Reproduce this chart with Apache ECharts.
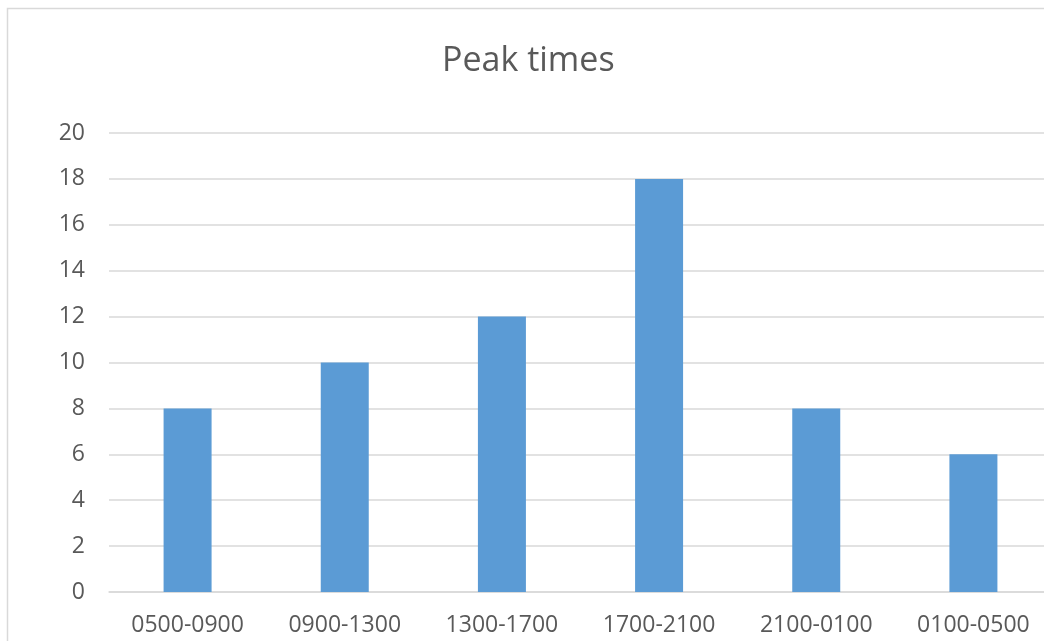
<!DOCTYPE html>
<html><head><meta charset="utf-8">
<script src="https://cdn.jsdelivr.net/npm/echarts@6/dist/echarts.min.js"></script>
<style>html,body{margin:0;padding:0;background:#fff}#c{width:1044px;height:641px}</style>
</head><body><div id="c"></div>
<script>
var categories = ['0500-0900','0900-1300','1300-1700','1700-2100','2100-0100','0100-0500'];
var values = [8, 10, 12, 18, 8, 6];
var title = 'Peak times';
var chart = echarts.init(document.getElementById('c'));
chart.setOption({
  animation: false,
  backgroundColor: '#fff',
  graphic: [{type:'rect', shape:{x:7.5,y:8.5,width:1100,height:700}, style:{fill:'none',stroke:'#d9d9d9',lineWidth:1.5}, silent:true, z:-1}],
  title: {text: title, left: 442, top: 44, padding: 0, textStyle:{fontFamily:'Open Sans', fontWeight:'normal', fontSize:34, color:'#595959'}},
  grid: {left: 109, width: 943, top: 133, bottom: 49, containLabel: false, outerBoundsMode: 'none'},
  xAxis: {type:'category', data: categories,
    axisLine:{lineStyle:{color:'#d9d9d9', width:1.5}}, axisTick:{show:false},
    axisLabel:{fontFamily:'Open Sans', fontSize:23, color:'#595959', margin:22}},
  yAxis: {type:'value', min:0, max:20, interval:2,
    axisLine:{show:false}, axisTick:{show:false},
    splitLine:{lineStyle:{color:'#d9d9d9', width:1.5}},
    axisLabel:{fontFamily:'Open Sans', fontSize:23, color:'#595959', margin:24}},
  series: [{type:'bar', data: values, barWidth: 48, itemStyle:{color:'#5b9bd5'}}]
});
</script></body></html>
